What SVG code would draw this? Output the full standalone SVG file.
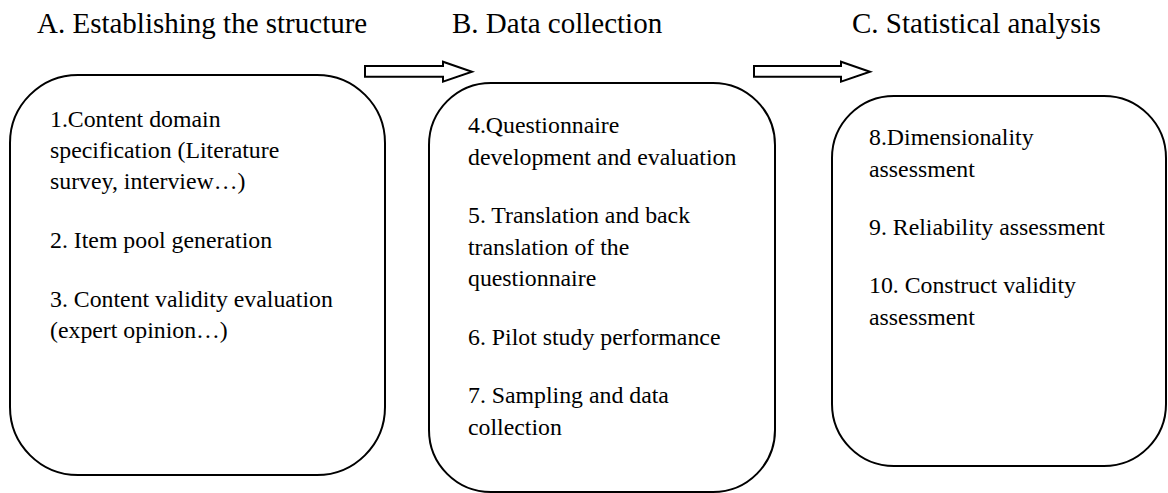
<svg xmlns="http://www.w3.org/2000/svg" width="1168" height="493" viewBox="0 0 1168 493">
<style>
.box{fill:#fff;stroke:#000;stroke-width:2}
.arrow{fill:#fff;stroke:#000;stroke-width:2;stroke-linejoin:miter}
text{font-family:"Liberation Serif","Times New Roman",serif;fill:#000}
.title{font-size:29px}
.item{font-size:23.8px}
</style>
<rect width="1168" height="493" fill="#fff"/>
<g id="title-a"><text class="title" x="37" y="33" font-family="Liberation Serif, serif">A. Establishing the structure</text></g>
<g id="title-b"><text class="title" x="452" y="33" font-family="Liberation Serif, serif">B. Data collection</text></g>
<g id="title-c"><text class="title" x="852" y="33" font-family="Liberation Serif, serif">C. Statistical analysis</text></g>
<g id="connectors">
<polygon class="arrow" points="365,66 443,66 443,61.7 472,71.7 443,81.7 443,76.7 365,76.7"/>
<polygon class="arrow" points="754,66 841,66 841,61.7 870,71.7 841,81.7 841,76.7 754,76.7"/>
</g>
<g id="box-a" font-family="Liberation Serif, serif">
<rect class="box" x="10" y="75" width="375" height="400" rx="68" ry="68"/>
<text class="item" x="50" y="127">1.Content domain</text>
<text class="item" x="50" y="158">specification (Literature</text>
<text class="item" x="50" y="189">survey, interview…)</text>
<text class="item" x="50" y="248">2. Item pool generation</text>
<text class="item" x="50" y="307">3. Content validity evaluation</text>
<text class="item" x="50" y="338">(expert opinion…)</text>
</g>
<g id="box-b" font-family="Liberation Serif, serif">
<rect class="box" x="429" y="83" width="346" height="409" rx="62" ry="62"/>
<text class="item" x="468" y="133">4.Questionnaire</text>
<text class="item" x="468" y="165">development and evaluation</text>
<text class="item" x="468" y="223">5. Translation and back</text>
<text class="item" x="468" y="255">translation of the</text>
<text class="item" x="468" y="286">questionnaire</text>
<text class="item" x="468" y="345">6. Pilot study performance</text>
<text class="item" x="468" y="403">7. Sampling and data</text>
<text class="item" x="468" y="435">collection</text>
</g>
<g id="box-c" font-family="Liberation Serif, serif">
<rect class="box" x="832" y="96" width="334" height="370" rx="62" ry="62"/>
<text class="item" x="869" y="145">8.Dimensionality</text>
<text class="item" x="869" y="177">assessment</text>
<text class="item" x="869" y="235">9. Reliability assessment</text>
<text class="item" x="869" y="293">10. Construct validity</text>
<text class="item" x="869" y="325">assessment</text>
</g>
</svg>
